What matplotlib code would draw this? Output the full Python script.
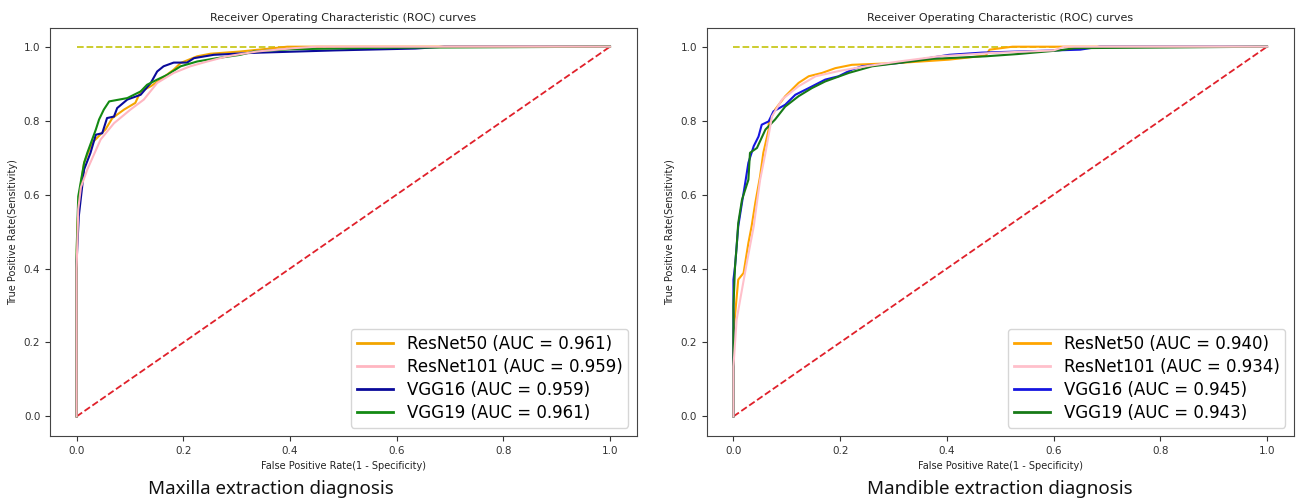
import matplotlib
matplotlib.use("Agg")
import matplotlib.pyplot as plt

# ---------------- data ----------------
title_text = "Receiver Operating Characteristic (ROC) curves"
xlabel_text = "False Positive Rate(1 - Specificity)"
ylabel_text = "True Positive Rate(Sensitivity)"
panel_names = ["Maxilla extraction diagnosis", "Mandible extraction diagnosis"]
model_names = ["ResNet50", "ResNet101", "VGG16", "VGG19"]

# Maxilla
max_auc = [0.961, 0.959, 0.959, 0.961]
max_resnet50_fpr = [0.0, 0.0, 0.001, 0.005, 0.014, 0.029, 0.054, 0.067, 0.089, 0.110, 0.120, 0.139, 0.157, 0.182, 0.195, 0.226, 0.251, 0.307, 0.369, 0.395, 1.0]
max_resnet50_tpr = [0.0, 0.39, 0.505, 0.60, 0.686, 0.740, 0.776, 0.807, 0.830, 0.848, 0.879, 0.893, 0.911, 0.938, 0.956, 0.974, 0.981, 0.987, 0.996, 1.0, 1.0]
max_resnet101_fpr = [0.0, 0.0, 0.003, 0.008, 0.020, 0.045, 0.070, 0.101, 0.126, 0.151, 0.182, 0.213, 0.245, 0.282, 0.338, 0.407, 0.450, 1.0]
max_resnet101_tpr = [0.0, 0.40, 0.56, 0.62, 0.668, 0.749, 0.793, 0.830, 0.857, 0.902, 0.929, 0.947, 0.960, 0.974, 0.987, 0.996, 1.0, 1.0]
max_vgg16_fpr = [0.0, 0.0, 0.004, 0.014, 0.026, 0.036, 0.048, 0.057, 0.070, 0.076, 0.095, 0.120, 0.139, 0.151, 0.163, 0.182, 0.207, 0.220, 0.257, 0.326, 0.345, 0.485, 0.635, 0.689, 1.0]
max_vgg16_tpr = [0.0, 0.42, 0.541, 0.668, 0.713, 0.762, 0.766, 0.807, 0.811, 0.834, 0.857, 0.870, 0.902, 0.933, 0.947, 0.957, 0.957, 0.969, 0.978, 0.983, 0.984, 0.990, 0.995, 1.0, 1.0]
max_vgg19_fpr = [0.0, 0.0, 0.003, 0.014, 0.020, 0.036, 0.042, 0.051, 0.061, 0.095, 0.120, 0.132, 0.151, 0.170, 0.195, 0.226, 0.263, 0.307, 0.332, 0.400, 0.566, 1.0]
max_vgg19_tpr = [0.0, 0.45, 0.595, 0.686, 0.713, 0.776, 0.803, 0.830, 0.852, 0.861, 0.879, 0.897, 0.911, 0.924, 0.947, 0.960, 0.969, 0.978, 0.987, 0.993, 0.997, 1.0]

# Mandible
man_auc = [0.940, 0.934, 0.945, 0.943]
man_resnet50_fpr = [0.0, 0.0, 0.0, 0.0, 0.009, 0.019, 0.028, 0.034, 0.041, 0.050, 0.056, 0.066, 0.066, 0.078, 0.097, 0.122, 0.141, 0.166, 0.191, 0.222, 0.310, 0.404, 0.473, 0.480, 0.523, 1.0]
man_resnet50_tpr = [0.0, 0.135, 0.18, 0.226, 0.370, 0.388, 0.469, 0.514, 0.578, 0.650, 0.713, 0.776, 0.794, 0.830, 0.866, 0.902, 0.920, 0.929, 0.942, 0.951, 0.956, 0.965, 0.976, 0.992, 1.0, 1.0]
man_resnet101_fpr = [0.0, 0.0, 0.006, 0.016, 0.025, 0.038, 0.044, 0.050, 0.060, 0.069, 0.072, 0.091, 0.122, 0.154, 0.197, 0.248, 0.310, 0.385, 0.485, 0.600, 0.620, 1.0]
man_resnet101_tpr = [0.0, 0.135, 0.262, 0.343, 0.415, 0.514, 0.578, 0.640, 0.713, 0.785, 0.811, 0.857, 0.893, 0.920, 0.934, 0.947, 0.960, 0.974, 0.983, 0.990, 1.0, 1.0]
man_vgg16_fpr = [0.0, 0.0, 0.0, 0.003, 0.009, 0.016, 0.022, 0.028, 0.038, 0.047, 0.053, 0.066, 0.075, 0.097, 0.116, 0.141, 0.172, 0.197, 0.222, 0.241, 0.310, 0.404, 0.466, 0.650, 0.686, 1.0]
man_vgg16_tpr = [0.0, 0.289, 0.370, 0.406, 0.514, 0.578, 0.631, 0.686, 0.731, 0.757, 0.789, 0.798, 0.825, 0.843, 0.870, 0.888, 0.911, 0.920, 0.938, 0.947, 0.956, 0.978, 0.984, 0.992, 1.0, 1.0]
man_vgg19_fpr = [0.0, 0.0, 0.0, 0.003, 0.006, 0.009, 0.016, 0.028, 0.031, 0.044, 0.060, 0.078, 0.097, 0.122, 0.147, 0.172, 0.216, 0.260, 0.310, 0.373, 0.473, 0.532, 0.610, 0.640, 1.0]
man_vgg19_tpr = [0.0, 0.208, 0.298, 0.406, 0.460, 0.523, 0.586, 0.640, 0.713, 0.726, 0.776, 0.803, 0.838, 0.866, 0.888, 0.906, 0.929, 0.947, 0.956, 0.967, 0.974, 0.980, 0.990, 0.996, 1.0]

panels = [
    dict(name=panel_names[0], auc=max_auc,
         curves=[(max_resnet50_fpr, max_resnet50_tpr), (max_resnet101_fpr, max_resnet101_tpr),
                 (max_vgg16_fpr, max_vgg16_tpr), (max_vgg19_fpr, max_vgg19_tpr)],
         colors=["#f2a500", "#ffb6c1", "#0a0a9a", "#138a13"]),
    dict(name=panel_names[1], auc=man_auc,
         curves=[(man_resnet50_fpr, man_resnet50_tpr), (man_resnet101_fpr, man_resnet101_tpr),
                 (man_vgg16_fpr, man_vgg16_tpr), (man_vgg19_fpr, man_vgg19_tpr)],
         colors=["#ffa500", "#ffc0cb", "#1515e0", "#177a17"]),
]

fig = plt.figure(figsize=(12.98, 5.01), dpi=100)
axes_rects = [[0.0385, 0.1297, 0.452, 0.814], [0.5445, 0.1297, 0.4522, 0.814]]
subtitle_x = [0.209, 0.770]

for rect, p, sx in zip(axes_rects, panels, subtitle_x):
    ax = fig.add_axes(rect)
    zorders = [2.2, 2.6, 2.3, 2.4]
    for (fpr, tpr), c, nm, a, z in zip(p["curves"], p["colors"], model_names, p["auc"], zorders):
        ax.plot(fpr, tpr, color=c, lw=1.5,
                label=f"{nm} (AUC = {a:.3f})", zorder=z)
    ax.plot([0, 1], [0, 1], "--", color="#e0202a", lw=1.3, zorder=2)
    ax.plot([0, 1], [1, 1], "--", color="#c8c81e", lw=1.3, zorder=2)
    ax.set_xlim(-0.05, 1.05)
    ax.set_ylim(-0.053, 1.05)
    ax.set_xticks([0.0, 0.2, 0.4, 0.6, 0.8, 1.0])
    ax.set_yticks([0.0, 0.2, 0.4, 0.6, 0.8, 1.0])
    ax.tick_params(labelsize=7.5, colors="#333333", length=3.5)
    for s in ax.spines.values():
        s.set_color("#444444")
    ax.set_title(title_text, fontsize=8, color="#222222", pad=5)
    ax.set_xlabel(xlabel_text, fontsize=7, color="#222222", labelpad=4)
    ax.set_ylabel(ylabel_text, fontsize=7, color="#222222", labelpad=4)
    leg = ax.legend(loc="lower right", fontsize=12, handlelength=2.2,
                    borderpad=0.35, labelspacing=0.3, handletextpad=0.8, framealpha=0.8)
    for line in leg.get_lines():
        line.set_linewidth(2.0)
    fig.text(sx, 0.014, p["name"], ha="center", va="baseline", fontsize=13.5,
             family=["Noto Sans", "DejaVu Sans"], color="#111111")

fig.savefig("out.png", dpi=100)
